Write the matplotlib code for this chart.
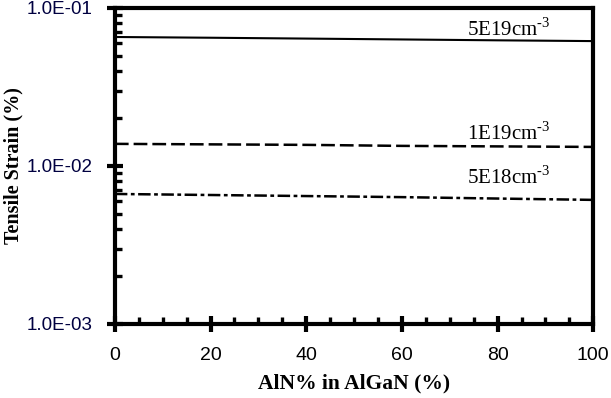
import matplotlib
matplotlib.use('Agg')
import matplotlib.pyplot as plt
from matplotlib.ticker import LogLocator, FixedLocator, NullFormatter, MultipleLocator

aln = [0, 20, 40, 60, 80, 100]
strain_5e19 = [0.0655, 0.0648, 0.0640, 0.0632, 0.0624, 0.0617]
strain_1e19 = [0.0138, 0.0137, 0.0136, 0.0134, 0.0133, 0.0132]
strain_5e18 = [0.00665, 0.00655, 0.00645, 0.00635, 0.00622, 0.0061]
ytick_vals = [1e-3, 1e-2, 1e-1]
ytick_labels = ['1.0E-03', '1.0E-02', '1.0E-01']

plt.rcParams['mathtext.fontset'] = 'custom'
plt.rcParams['mathtext.rm'] = 'Liberation Serif'

fig = plt.figure(figsize=(6.11, 3.98), dpi=100)
ax = fig.add_axes([0.188, 0.186, 0.783, 0.794])

ax.plot(aln, strain_5e19, color='black', lw=1.5, ls='-')
ax.plot(aln, strain_1e19, color='black', lw=1.8, ls=(0, (5.5, 2)))
ax.plot(aln, strain_5e18, color='black', lw=1.8, ls=(0, (5, 1.4, 1.5, 1.4)))

ax.set_yscale('log')
ax.set_ylim(1e-3, 1e-1)
ax.set_xlim(0, 100)

ax.yaxis.set_major_locator(FixedLocator(ytick_vals))
ax.set_yticklabels(ytick_labels)
ax.yaxis.set_minor_locator(LogLocator(base=10, subs=range(2, 10)))
ax.yaxis.set_minor_formatter(NullFormatter())
ax.xaxis.set_major_locator(MultipleLocator(20))
ax.xaxis.set_minor_locator(MultipleLocator(5))

for s in ax.spines.values():
    s.set_linewidth(3.0)

ax.tick_params(which='major', direction='inout', length=11, width=3.0,
               labelfontfamily='Liberation Sans')
ax.tick_params(which='minor', direction='in', length=5, width=2.4)
ax.tick_params(axis='y', which='both', left=True, right=False)
ax.tick_params(axis='x', which='both', bottom=True, top=False)
ax.tick_params(axis='y', labelcolor='#000040', labelsize=13.5, pad=10.5)
ax.tick_params(axis='x', labelsize=14, pad=11)

ax.set_xlabel('AlN% in AlGaN (%)', family='Liberation Serif', fontweight='bold',
              fontsize=15.5, labelpad=7)
ax.set_ylabel('Tensile Strain (%)', family='Liberation Serif', fontweight='bold',
              fontsize=14.5)
ax.yaxis.set_label_coords(-0.19, 0.5)

tfont = dict(family='Liberation Serif', fontsize=15, ha='right', va='baseline')
ax.text(91, 0.0668, '5E19cm$^{\\text{-3}}$', **tfont)
ax.text(91, 0.0147, '1E19cm$^{\\text{-3}}$', **tfont)
ax.text(91, 0.0077, '5E18cm$^{\\text{-3}}$', **tfont)

fig.savefig('out.png', dpi=100)
